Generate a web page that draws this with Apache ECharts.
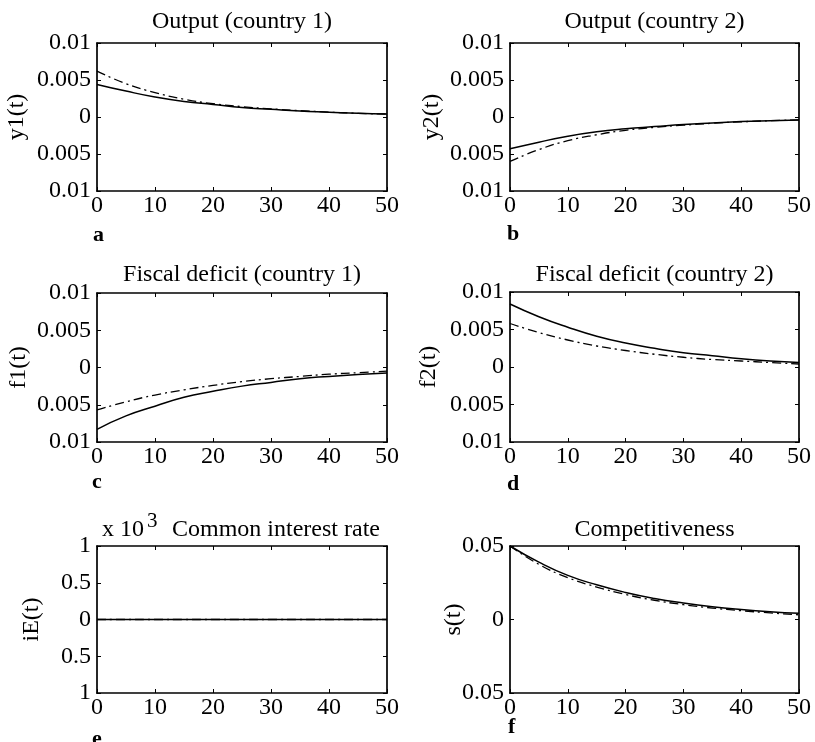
<!DOCTYPE html>
<html><head><meta charset="utf-8">
<script src="https://cdn.jsdelivr.net/npm/echarts@6/dist/echarts.min.js"></script>
<style>html,body{margin:0;padding:0;background:#fff}#c{width:815px;height:742px}</style>
</head><body><div id="c"></div>
<script>
// ---- data ----
const t = [0, 5, 10, 15, 20, 25, 30, 35, 40, 45, 50];
const xTickValues = [0, 10, 20, 30, 40, 50];

const y1Solid = [0.0044, 0.0035, 0.0027, 0.0021, 0.0017, 0.0013, 0.00104, 0.0008, 0.00065, 0.0005, 0.0004];
const y1Dash  = [0.0062, 0.0045, 0.0033, 0.0024, 0.0018, 0.0014, 0.0011, 0.00085, 0.00066, 0.0005, 0.0004];
const y2Solid = [-0.0043, -0.0034, -0.0026, -0.0020, -0.0016, -0.0013, -0.0010, -0.0008, -0.00062, -0.0005, -0.0004];
const y2Dash  = [-0.0060, -0.0044, -0.0032, -0.0024, -0.0018, -0.0014, -0.0011, -0.00085, -0.00065, -0.0005, -0.0004];
const f1Solid = [-0.0083, -0.0065, -0.0052, -0.0040, -0.0032, -0.0025, -0.0020, -0.0015, -0.0012, -0.00095, -0.00075];
const f1Dash  = [-0.0057, -0.0046, -0.0037, -0.0030, -0.0024, -0.0019, -0.0015, -0.0012, -0.0009, -0.0007, -0.0005];
const f2Solid = [0.0084, 0.0067, 0.0053, 0.0041, 0.0032, 0.0025, 0.0019, 0.0015, 0.0011, 0.0008, 0.0006];
const f2Dash  = [0.0058, 0.0046, 0.0036, 0.0028, 0.0022, 0.0017, 0.0013, 0.0010, 0.0008, 0.0006, 0.0004];
const iESolid = [0, 0, 0, 0, 0, 0, 0, 0, 0, 0, 0];
const iEDash  = [0, 0, 0, 0, 0, 0, 0, 0, 0, 0, 0];
const sSolid  = [0.05, 0.039, 0.030, 0.0236, 0.0184, 0.0143, 0.0112, 0.0087, 0.0068, 0.0053, 0.0042];
const sDash   = [0.05, 0.0375, 0.0285, 0.0221, 0.017, 0.0131, 0.0101, 0.0078, 0.006, 0.0045, 0.0032];

const panelTitles = ["Output (country 1)", "Output (country 2)", "Fiscal deficit (country 1)", "Fiscal deficit (country 2)", "Common interest rate", "Competitiveness"];
const yNames = ["y1(t)", "y2(t)", "f1(t)", "f2(t)", "iE(t)", "s(t)"];
const panelLetters = ["a", "b", "c", "d", "e", "f"];
const yMins = [-0.01, -0.01, -0.01, -0.01, -1, -0.05];
const yMaxs = [0.01, 0.01, 0.01, 0.01, 1, 0.05];
const yIntervals = [0.005, 0.005, 0.005, 0.005, 0.5, 0.05];
const exponentText = "x 10";
const exponentSup = "3";

// ---- layout ----
const solids = [y1Solid, y2Solid, f1Solid, f2Solid, iESolid, sSolid];
const dashes = [y1Dash, y2Dash, f1Dash, f2Dash, iEDash, sDash];
const boxes = [
  {left: 97, top: 43, width: 290, height: 148},
  {left: 510, top: 43, width: 289, height: 148},
  {left: 97, top: 293, width: 290, height: 149},
  {left: 510, top: 292, width: 289, height: 150},
  {left: 97, top: 546, width: 290, height: 147},
  {left: 510, top: 546, width: 289, height: 147}
];
const FONT = "Liberation Serif";
const titleY = [22, 22, 275, 275, 530, 530];
const letterPos = [[93, 235], [507, 234], [92, 482], [507, 484], [92, 739], [508, 727]];
const nameX = [17, 432, 19, 429, 32, 454];

const fmt = v => String(parseFloat(Math.abs(v).toFixed(6)));

const grid = [], xAxis = [], yAxis = [], series = [], graphic = [];
boxes.forEach((b, i) => {
  grid.push(Object.assign({show: false}, b));
  const lineAx = {show: true, onZero: false, lineStyle: {color: '#000', width: 1.7}};
  const tickAx = {show: true, inside: true, length: 4, lineStyle: {color: '#000', width: 1}};
  xAxis.push({type: 'value', gridIndex: i, min: 0, max: 50, interval: 10, position: 'bottom',
    axisLine: lineAx, axisTick: tickAx, splitLine: {show: false},
    axisLabel: {show: true, margin: 3, color: '#000', fontFamily: FONT, fontSize: 24}});
  xAxis.push({type: 'value', gridIndex: i, min: 0, max: 50, interval: 10, position: 'top',
    axisLine: lineAx, axisTick: tickAx, splitLine: {show: false}, axisLabel: {show: false}});
  yAxis.push({type: 'value', gridIndex: i, min: yMins[i], max: yMaxs[i], interval: yIntervals[i], position: 'left',
    axisLine: lineAx, axisTick: tickAx, splitLine: {show: false},
    axisLabel: {show: true, margin: 6, color: '#000', fontFamily: FONT, fontSize: 24, formatter: fmt}});
  yAxis.push({type: 'value', gridIndex: i, min: yMins[i], max: yMaxs[i], interval: yIntervals[i], position: 'right',
    axisLine: lineAx, axisTick: tickAx, splitLine: {show: false}, axisLabel: {show: false}});
  const xi = 2 * i, yi = 2 * i;
  series.push({type: 'line', xAxisIndex: xi, yAxisIndex: yi, data: t.map((x, k) => [x, solids[i][k]]),
    smooth: true, showSymbol: false, silent: true,
    lineStyle: {color: '#000', width: 1.5, type: 'solid'}});
  series.push({type: 'line', xAxisIndex: xi, yAxisIndex: yi, data: t.map((x, k) => [x, dashes[i][k]]),
    smooth: true, showSymbol: false, silent: true,
    lineStyle: {color: '#000', width: 1.3, type: [9, 4, 2, 4]}});
  const txt = (text, x, y, size, extra) => Object.assign({type: 'text', x, y,
    style: {text, fontFamily: FONT, fontSize: size, fill: '#000', textAlign: 'center', textVerticalAlign: 'middle'}}, extra || {});
  if (i !== 4) {
    graphic.push(txt(panelTitles[i], b.left + b.width / 2, titleY[i], 24));
  } else {
    const g1 = txt(panelTitles[i], 172, titleY[i], 24); g1.style.textAlign = 'left'; graphic.push(g1);
    const g2 = txt(exponentText, 102, titleY[i], 24); g2.style.textAlign = 'left'; graphic.push(g2);
    const g3 = txt(exponentSup, 147, titleY[i] - 9, 21); g3.style.textAlign = 'left'; graphic.push(g3);
  }
  const gl = txt(panelLetters[i], letterPos[i][0], letterPos[i][1], 22);
  gl.style.textAlign = 'left'; gl.style.fontWeight = 'bold'; graphic.push(gl);
  graphic.push(txt(yNames[i], nameX[i], b.top + b.height / 2, 24, {rotation: Math.PI / 2}));
});

const chart = echarts.init(document.getElementById('c'), null, {renderer: 'canvas'});
chart.setOption({animation: false, backgroundColor: '#fff', grid, xAxis, yAxis, series, graphic});
</script></body></html>
